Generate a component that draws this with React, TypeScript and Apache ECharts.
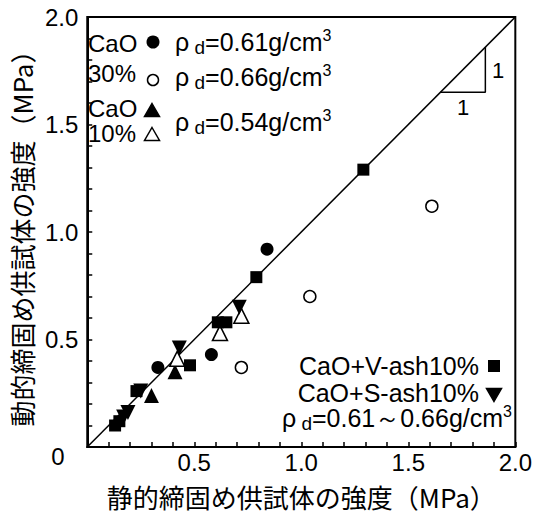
import React, { useEffect, useRef } from "react";
import * as echarts from "echarts";

// ---- data ----
const axisMin = 0;
const axisMax = 2.0;
const axisInterval = 0.5;
const xTitle = "静的締固め供試体の強度（MPa）";
const yTitle = "動的締固め供試体の強度（MPa）";

// [static strength, dynamic strength] (MPa)
const cao30Rho061: number[][] = [[0.33, 0.37], [0.58, 0.43], [0.84, 0.92]];
const cao30Rho066: number[][] = [[0.72, 0.37], [1.04, 0.70], [1.61, 1.12]];
const cao10Rho054Filled: number[][] = [[0.30, 0.24], [0.41, 0.35]];
const cao10Rho054Open: number[][] = [[0.42, 0.41], [0.62, 0.53], [0.72, 0.61]];
const caoVash10: number[][] = [
  [0.13, 0.10], [0.15, 0.12], [0.23, 0.26], [0.48, 0.38],
  [0.61, 0.58], [0.65, 0.58], [0.79, 0.79], [1.29, 1.29],
];
const caoSash10: number[][] = [
  [0.17, 0.14], [0.19, 0.16], [0.25, 0.26], [0.43, 0.46], [0.71, 0.65],
];
const oneToOne: number[][] = [[0, 0], [2, 2]];
const slopeTriangle: number[][] = [[1.65, 1.65], [1.86, 1.65], [1.86, 1.86]];

const FONT = "Liberation Sans";
const CJK = "Noto Sans CJK JP";

const rich = {
  a: { fontSize: 25, fontFamily: FONT, color: "#000", lineHeight: 30, verticalAlign: "middle" },
  s: { fontSize: 19, fontFamily: FONT, color: "#000", lineHeight: 30, verticalAlign: "bottom" },
  p: { fontSize: 16, fontFamily: FONT, color: "#000", lineHeight: 30, verticalAlign: "top" },
};

const rhoText = (v: string) => `{a|ρ}{s| d}{a|=${v}g/cm}{p|3}`;

const txt = (text: string, x: number, y: number, align = "left", size = 25) => ({
  type: "text",
  x,
  y,
  style: {
    text,
    fill: "#000",
    fontSize: size,
    fontFamily: FONT,
    lineHeight: 20,
    align,
    verticalAlign: "middle",
  },
});

const richTxt = (text: string, x: number, y: number, align = "left") => ({
  type: "text",
  x,
  y,
  style: { text, rich, align, verticalAlign: "middle", fill: "#000" },
});

const tri = (cx: number, cy: number, up: boolean, filled: boolean) => {
  const h = 13, w = 15;
  const pts = up
    ? [[cx, cy - h / 2], [cx + w / 2, cy + h / 2], [cx - w / 2, cy + h / 2]]
    : [[cx, cy + h / 2], [cx + w / 2, cy - h / 2], [cx - w / 2, cy - h / 2]];
  return {
    type: "polygon",
    shape: { points: pts },
    style: { fill: filled ? "#000" : "#fff", stroke: "#000", lineWidth: 1.5 },
  };
};

export default function App() {
  const ref = useRef<HTMLDivElement>(null);
  useEffect(() => {
    const chart = echarts.init(ref.current!, undefined, { renderer: "svg" });
    const axisCommon = {
      type: "value",
      min: axisMin,
      max: axisMax,
      interval: axisInterval,
      axisLine: { show: true, onZero: false, lineStyle: { color: "#000", width: 2 } },
      axisTick: { show: true, inside: true, length: 5, lineStyle: { color: "#000", width: 1.5 } },
      minorTick: { show: true, splitNumber: 5, length: 5, lineStyle: { color: "#000", width: 1.5 } },
      splitLine: { show: false },
      nameLocation: "middle",
      nameTextStyle: { fontFamily: CJK, fontSize: 26, color: "#000" },
    };
    const scat = (data: number[][], symbol: string, size: number, filled: boolean, rotate = 0) => ({
      type: "scatter",
      data,
      symbol,
      symbolSize: size,
      symbolRotate: rotate,
      itemStyle: { color: filled ? "#000" : "#fff", borderColor: "#000", borderWidth: filled ? 0 : 1.5, opacity: 1 },
      z: 3,
    });
    chart.setOption({
      animation: false,
      backgroundColor: "#fff",
      grid: { left: 76, top: 17, right: 16, bottom: 69, show: true, borderColor: "#000", borderWidth: 2, containLabel: false },
      xAxis: {
        ...axisCommon,
        name: xTitle,
        nameGap: 36,
        axisLabel: {
          fontFamily: FONT, fontSize: 24, color: "#000", margin: 3,
          formatter: (v: number) => (v === 0 ? "" : v.toFixed(1)),
        },
      },
      yAxis: {
        ...axisCommon,
        name: yTitle,
        nameGap: 43,
        axisLabel: {
          fontFamily: FONT, fontSize: 24, color: "#000", margin: 9,
          formatter: (v: number) => (v === 0 ? "" : v.toFixed(1)),
        },
      },
      series: [
        { type: "line", data: oneToOne, symbol: "none", lineStyle: { color: "#000", width: 1.5 }, z: 2 },
        { type: "line", data: slopeTriangle, symbol: "none", lineStyle: { color: "#000", width: 1.5 }, z: 2 },
        scat(cao30Rho061, "circle", 13, true),
        scat(cao30Rho066, "circle", 12, false),
        scat(cao10Rho054Filled, "triangle", 15, true),
        scat(cao10Rho054Open, "triangle", 15, false),
        scat(caoVash10, "rect", 12, true),
        scat(caoSash10, "triangle", 15, true, 180),
      ],
      graphic: [
        txt("0", 58, 456, "center", 24),
        txt("1", 498, 70, "center", 22),
        txt("1", 463, 107, "center", 22),
        // top-left legend
        txt("CaO", 88, 43, "left", 24),
        { type: "circle", shape: { cx: 153, cy: 42, r: 6.5 }, style: { fill: "#000" } },
        richTxt(rhoText("0.61"), 175, 42),
        txt("30%", 88, 73, "left", 24),
        { type: "circle", shape: { cx: 153, cy: 80, r: 5.5 }, style: { fill: "#fff", stroke: "#000", lineWidth: 1.5 } },
        richTxt(rhoText("0.66"), 175, 77),
        txt("CaO", 88, 108, "left", 24),
        tri(152, 110, true, true),
        txt("10%", 88, 133, "left", 24),
        tri(152, 134, true, false),
        richTxt(rhoText("0.54"), 175, 122),
        // bottom-right legend
        txt("CaO+V-ash10%", 479, 366, "right"),
        { type: "rect", shape: { x: 488, y: 360, width: 12, height: 12 }, style: { fill: "#000" } },
        txt("CaO+S-ash10%", 479, 393, "right"),
        tri(494, 395, false, true),
        richTxt("{a|ρ}{s| d}{a|=0.61～0.66g/cm}{p|3}", 512, 418, "right"),
      ],
    });
    return () => chart.dispose();
  }, []);
  return (
    <div
      ref={ref}
      style={{ position: "fixed", left: 0, top: 0, width: 535, height: 516, background: "#fff" }}
    />
  );
}
